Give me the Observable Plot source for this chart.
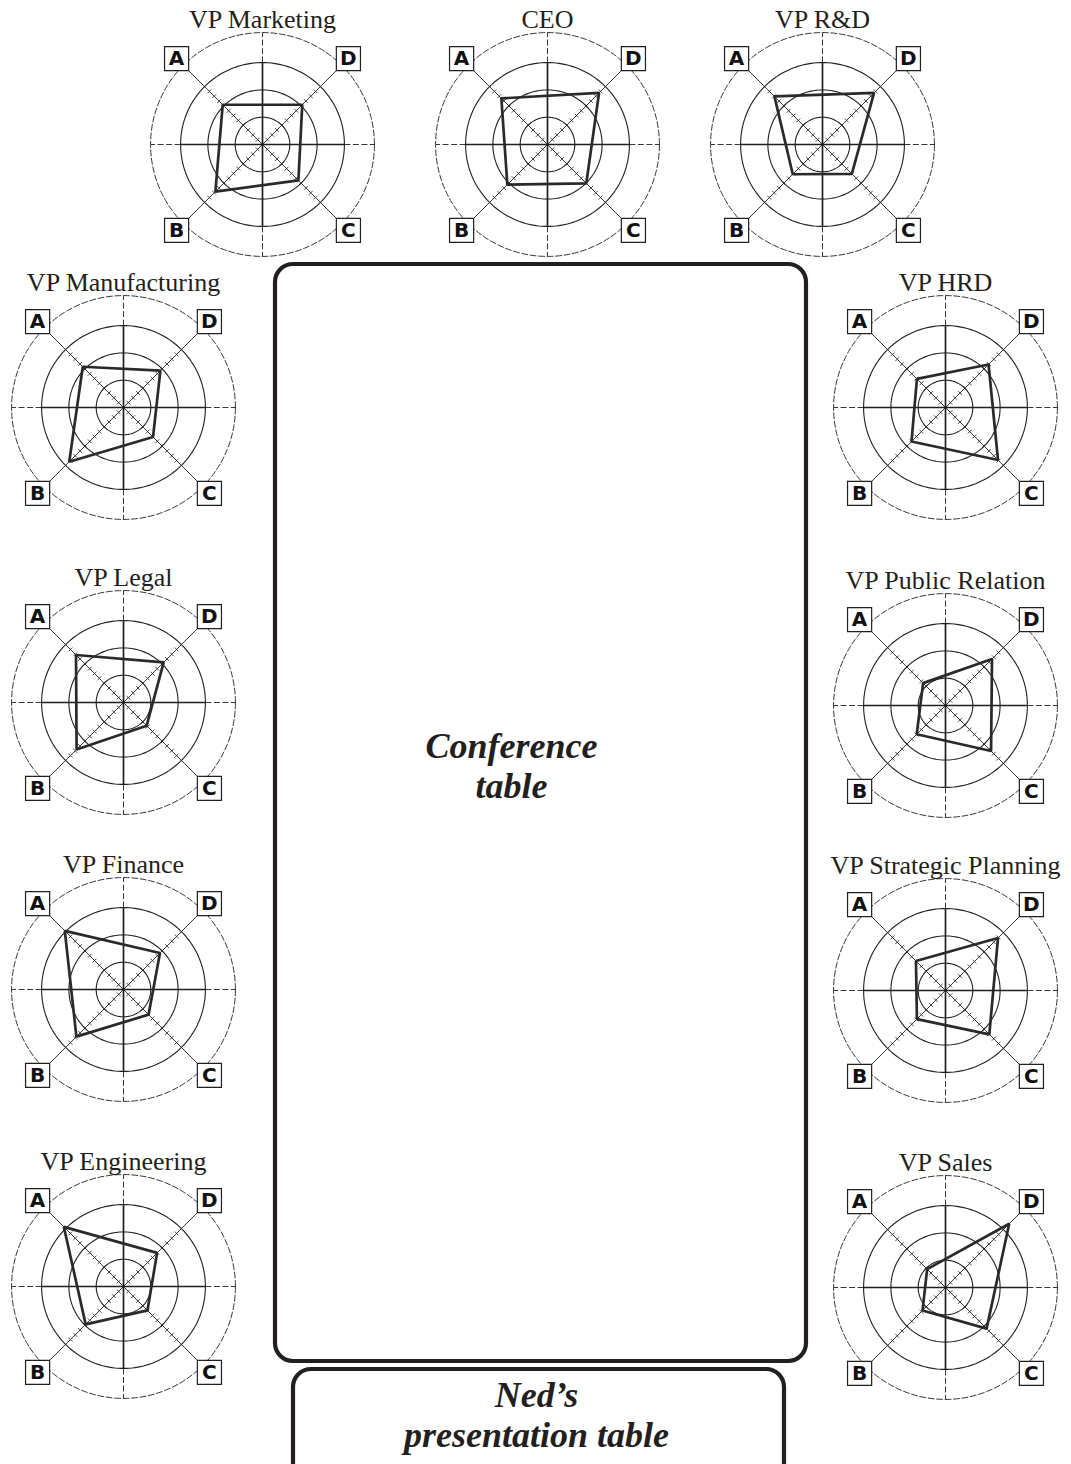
<!DOCTYPE html>
<html><head><meta charset="utf-8">
<script src="https://cdn.jsdelivr.net/npm/d3@7"></script>
<script src="https://cdn.jsdelivr.net/npm/@observablehq/plot@0.6"></script>
<style>
body{margin:0;background:#fff;}
#page{position:relative;width:1071px;height:1464px;overflow:hidden;background:#fff;}
#page > svg{position:absolute;}
</style></head><body><div id="page"></div>
<script>
// ---------- data ----------
const people = ["VP Marketing","CEO","VP R&D","VP Manufacturing","VP HRD","VP Legal","VP Public Relation","VP Finance","VP Strategic Planning","VP Engineering","VP Sales"];
const axisNames = ["A","D","C","B"];
const scoreA = [2.06, 2.39, 2.49, 2.11, 1.48, 2.46, 1.16, 3.04, 1.53, 3.09, 0.95];
const scoreB = [2.44, 2.08, 1.54, 2.81, 1.76, 2.43, 1.49, 2.44, 1.48, 1.96, 1.19];
const scoreC = [1.86, 2.01, 1.52, 1.53, 2.72, 1.20, 2.36, 1.30, 2.27, 1.24, 2.13];
const scoreD = [2.06, 2.67, 2.67, 1.91, 2.23, 2.08, 2.41, 1.89, 2.72, 1.74, 3.30];
const ringValues = [1, 2, 3];
const outerRing = 4.1;
const tickValues = [0.25,0.5,0.75,1,1.25,1.5,1.75,2,2.25,2.5,2.75];
const tableLabels = ["Conference\ntable", "Ned\u2019s\npresentation table"];

// ---------- layout (pixels) ----------
const seatCenters = [[261.7,144],[546.7,144],[821.7,144],[122.7,407.3],[944.5,407.3],[122.7,701.7],[945,705],[122.7,989],[944.5,990],[122.7,1286],[945,1286.7]];
const tableBoxes = [{x1:275,x2:806,y1:264,y2:1361},{x1:293,x2:784,y1:1369,y2:1495}];
const tableTextPos = [[511,797],[536,1446]];
const U = 27.3;            // px per score unit
const W = 270, H = 275, TOP = 142;
const labelR = 4.45;       // label radius (units)
const titleOffset = 117;   // px above center (baseline)
const ink = "#231f20";

const page = document.getElementById("page");

// background: tables
const bg = Plot.plot({
  width: 1071, height: 1464, margin: 0,
  style: {background: "transparent", overflow: "visible"},
  x: {domain: [0, 1071], axis: null},
  y: {domain: [0, 1464], reverse: true, axis: null},
  marks: [
    Plot.rect(tableBoxes, {x1: "x1", x2: "x2", y1: "y1", y2: "y2", rx: 18, fill: "white", stroke: ink, strokeWidth: 4.2}),
    Plot.text(tableLabels, {x: (d, i) => tableTextPos[i][0], y: (d, i) => tableTextPos[i][1], text: d => d,
      fontFamily: "Liberation Serif", fontStyle: "italic", fontWeight: "bold", fontSize: 36, lineHeight: 1.1,
      lineAnchor: "bottom", fill: ink})
  ]
});
bg.style.left = "0px"; bg.style.top = "0px";
page.appendChild(bg);

const angleOf = {A: 135, D: 45, C: -45, B: -135};
const rad = k => angleOf[k] * Math.PI / 180;

function radar(i) {
  const vals = {A: scoreA[i], B: scoreB[i], C: scoreC[i], D: scoreD[i]};
  const pts = axisNames.map(k => ({k, v: vals[k]}));
  const ringPts = [];
  for (const r of ringValues) for (let a = 0; a < 360; a += 2) ringPts.push({r, a: a * Math.PI / 180});
  const outerPts = [];
  for (let a = 0; a < 360; a += 2) outerPts.push({r: outerRing, a: a * Math.PI / 180});
  const r3 = ringValues[ringValues.length - 1];
  const cross = [{dx: 1, dy: 0}, {dx: -1, dy: 0}, {dx: 0, dy: 1}, {dx: 0, dy: -1}];
  const ticks = [];
  for (const k of axisNames) for (const t of tickValues) ticks.push({k, t});
  const th = 0.1;
  const svg = Plot.plot({
    width: W, height: H, margin: 0,
    style: {background: "transparent", overflow: "visible"},
    x: {domain: [-W / 2 / U, W / 2 / U], axis: null},
    y: {domain: [-(H - TOP) / U, TOP / U], axis: null},
    marks: [
      Plot.line(ringPts, {x: d => d.r * Math.cos(d.a), y: d => d.r * Math.sin(d.a), z: "r", curve: "linear-closed", stroke: ink, strokeWidth: 1.1}),
      Plot.line(outerPts, {x: d => d.r * Math.cos(d.a), y: d => d.r * Math.sin(d.a), curve: "linear-closed", stroke: ink, strokeWidth: 0.9, strokeDasharray: "6,2.5"}),
      Plot.link(cross, {x1: 0, y1: 0, x2: d => d.dx * r3, y2: d => d.dy * r3, stroke: ink, strokeWidth: 1.7}),
      Plot.link(cross, {x1: d => d.dx * r3, y1: d => d.dy * r3, x2: d => d.dx * outerRing, y2: d => d.dy * outerRing, stroke: ink, strokeWidth: 0.9, strokeDasharray: "6,2.5"}),
      Plot.link(axisNames, {x1: 0, y1: 0, x2: k => labelR * Math.cos(rad(k)), y2: k => labelR * Math.sin(rad(k)), stroke: ink, strokeWidth: 0.9}),
      Plot.link(ticks, {
        x1: d => d.t * Math.cos(rad(d.k)) - th * Math.sin(rad(d.k)), y1: d => d.t * Math.sin(rad(d.k)) + th * Math.cos(rad(d.k)),
        x2: d => d.t * Math.cos(rad(d.k)) + th * Math.sin(rad(d.k)), y2: d => d.t * Math.sin(rad(d.k)) - th * Math.cos(rad(d.k)),
        stroke: ink, strokeWidth: 0.8}),
      Plot.line(pts, {x: d => d.v * Math.cos(rad(d.k)), y: d => d.v * Math.sin(rad(d.k)), curve: "linear-closed", stroke: "#2a2a2a", strokeWidth: 2.7, strokeLinejoin: "miter"}),
      Plot.dot(axisNames, {x: k => labelR * Math.cos(rad(k)), y: k => labelR * Math.sin(rad(k)), symbol: "square", r: 13.6, fill: "white", stroke: ink, strokeWidth: 1.2}),
      Plot.text(axisNames, {x: k => labelR * Math.cos(rad(k)), y: k => labelR * Math.sin(rad(k)), text: d => d, fontFamily: "DejaVu Sans", fontWeight: "bold", fontSize: 20, fill: "#111", lineAnchor: "middle"}),
      Plot.text([people[i]], {x: 0, y: titleOffset / U, text: d => d, lineAnchor: "bottom", fontFamily: "Liberation Serif", fontSize: 26, fill: ink})
    ]
  });
  svg.style.left = (seatCenters[i][0] - W / 2) + "px";
  svg.style.top = (seatCenters[i][1] - TOP) + "px";
  page.appendChild(svg);
}
people.forEach((p, i) => radar(i));
</script></body></html>
